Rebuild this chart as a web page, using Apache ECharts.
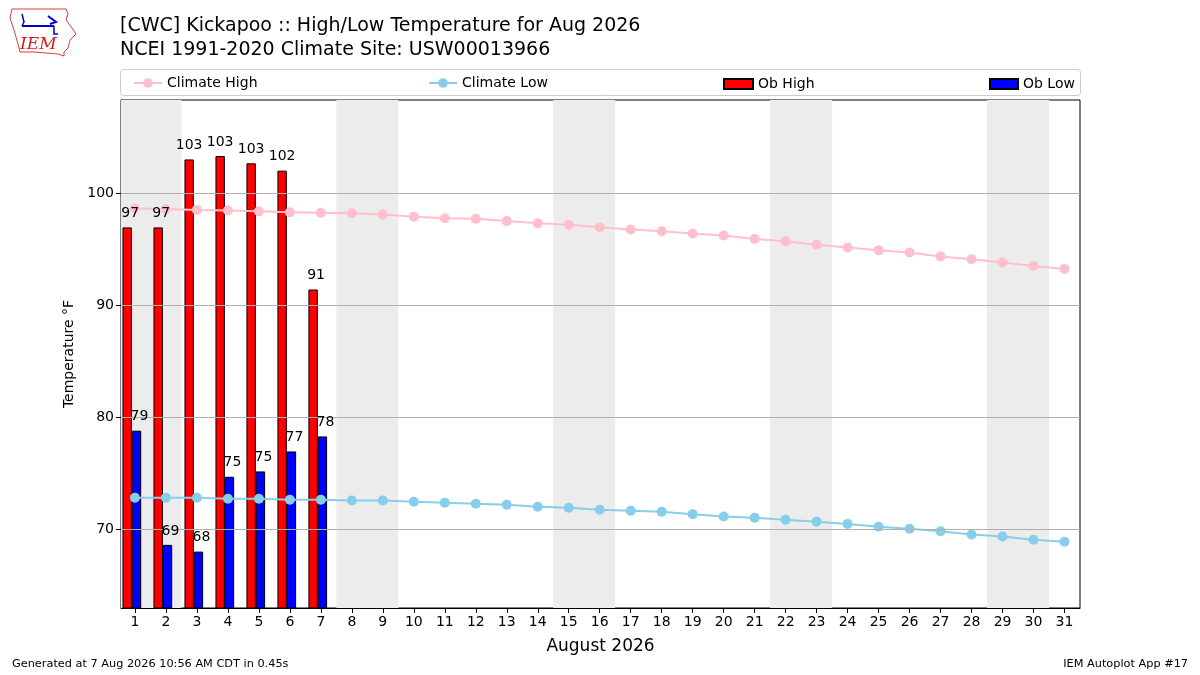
<!DOCTYPE html>
<html>
<head>
<meta charset="utf-8">
<script src="https://cdn.jsdelivr.net/npm/echarts@6/dist/echarts.min.js"></script>
<style>
html,body{margin:0;padding:0;background:#fff;}
#chart{width:1200px;height:675px;}
</style>
</head>
<body>
<div id="chart"></div>
<script>
// ---- data ----
const days = [1,2,3,4,5,6,7,8,9,10,11,12,13,14,15,16,17,18,19,20,21,22,23,24,25,26,27,28,29,30,31];
const climateHigh = [98.63,98.58,98.5,98.45,98.37,98.28,98.25,98.2,98.1,97.9,97.75,97.7,97.5,97.3,97.17,96.95,96.75,96.6,96.4,96.22,95.9,95.7,95.4,95.15,94.9,94.7,94.35,94.1,93.8,93.5,93.24];
const climateLow = [72.83,72.83,72.83,72.74,72.74,72.65,72.65,72.59,72.59,72.47,72.38,72.3,72.2,72.03,71.94,71.76,71.67,71.58,71.37,71.16,71.05,70.87,70.7,70.5,70.24,70.06,69.85,69.55,69.37,69.08,68.9];
const obDays = [1,2,3,4,5,6,7];
const obHigh = [96.94,96.94,103.0,103.3,102.65,102.0,91.4];
const obLow = [78.81,68.63,68.03,74.7,75.18,76.96,78.3];
const weekendStarts = [1,8,15,22,29];
const yTicks = [70,80,90,100];
const xTicks = days;

// ---- chart ----
const xMin = 0.55, xMax = 31.5;
const FONT = 'DejaVu Sans';
const chart = echarts.init(document.getElementById('chart'), null, {renderer:'canvas'});

const highOffset = -0.25, lowOffset = 0.05;
const highData = obDays.map((d,i)=>[d+highOffset, obHigh[i]]);
const lowData = obDays.map((d,i)=>[d+lowOffset, obLow[i]]);

function labelPoints(arr){
  return arr.map(p=>({value:p, label:{offset:[Math.round(p[1]) < 100 ? 3 : 0, 0]}}));
}

const bandData = weekendStarts.map(d=>[{xAxis: Math.max(d-0.5, xMin)},{xAxis: Math.min(d+1.5, xMax)}]);
const gridData = yTicks.map(v=>({yAxis: v}));

const labelSeries = (name, data) => ({
  name: name, type:'scatter', z:6, symbolSize:0, silent:true,
  itemStyle:{opacity:1},
  label:{show:true, position:'top', distance:7, color:'#000', fontFamily:FONT, fontSize:14,
    formatter: p => Math.round(p.value[1]).toString()},
  data: labelPoints(data)
});

const legendText = {fontFamily:FONT, fontSize:14, color:'#000'};

const option = {
  backgroundColor: '#fff',
  animation: false,
  textStyle: {fontFamily: FONT},
  title: {
    text: '[CWC] Kickapoo :: High/Low Temperature for Aug 2026\nNCEI 1991-2020 Climate Site: USW00013966',
    left: 115, top: 9,
    textStyle: {fontFamily: FONT, fontSize: 19, fontWeight: 'normal', color: '#000', lineHeight: 24}
  },
  legend: [
    {data:['Climate High'], left:128, top:71, itemWidth:28, itemHeight:12, itemGap:8, textStyle:legendText},
    {data:['Climate Low'], left:423, top:71, itemWidth:28, itemHeight:12, itemGap:8, textStyle:legendText},
    {data:[{name:'Ob High', icon:'rect'}], left:718, top:72, itemWidth:29, itemHeight:10, textStyle:legendText},
    {data:[{name:'Ob Low', icon:'rect'}], left:984, top:72, itemWidth:28, itemHeight:10, textStyle:legendText}
  ],
  grid: {left:121, right:120, top:100, bottom:67, show:true, borderColor:'#000', borderWidth:1, backgroundColor:'transparent'},
  xAxis: {
    type:'value', min:xMin, max:xMax,
    name:'August 2026', nameLocation:'middle', nameGap:30,
    nameTextStyle:{fontFamily:FONT, fontSize:17, color:'#000'},
    axisLine:{show:true, lineStyle:{color:'#000', width:1}},
    axisTick:{show:true, length:5, lineStyle:{color:'#000'}, customValues: xTicks},
    axisLabel:{color:'#000', fontFamily:FONT, fontSize:14, margin:7, customValues: xTicks},
    splitLine:{show:false}
  },
  yAxis: {
    type:'value', min:63, max:108.3,
    name:'Temperature °F', nameLocation:'middle', nameGap:44,
    nameTextStyle:{fontFamily:FONT, fontSize:14, color:'#000'},
    axisLine:{show:true, lineStyle:{color:'#000', width:1}},
    axisTick:{show:true, length:5, lineStyle:{color:'#000'}, customValues: yTicks},
    axisLabel:{color:'#000', fontFamily:FONT, fontSize:14, margin:7, customValues: yTicks},
    splitLine:{show:false}
  },
  series: [
    {
      name:'bg', type:'line', data:[], z:1, silent:true,
      markArea:{silent:true, itemStyle:{color:'#ececec'}, data: bandData},
      markLine:{silent:true, symbol:['none','none'], label:{show:false},
        lineStyle:{color:'#b0b0b0', type:'solid', width:1}, data: gridData}
    },
    {
      name:'Ob High', type:'bar', z:3, barWidth:9.4, barGap:'-100%',
      itemStyle:{color:'#ff0000', borderColor:'#000', borderWidth:1},
      data: highData
    },
    {
      name:'Ob Low', type:'bar', z:3, barWidth:9.4, barGap:'-100%',
      itemStyle:{color:'#0000ff', borderColor:'#000', borderWidth:1},
      data: lowData
    },
    {
      name:'Climate High', type:'line', z:4, symbol:'circle', symbolSize:10,
      lineStyle:{color:'#ffc0cb', width:2}, itemStyle:{color:'#ffc0cb'},
      data: days.map((d,i)=>[d, climateHigh[i]])
    },
    {
      name:'Climate Low', type:'line', z:4, symbol:'circle', symbolSize:10,
      lineStyle:{color:'#87ceeb', width:2}, itemStyle:{color:'#87ceeb'},
      data: days.map((d,i)=>[d, climateLow[i]])
    },
    labelSeries('highLabels', highData),
    labelSeries('lowLabels', lowData)
  ],
  graphic: [
    {type:'rect', left:120, top:69, shape:{width:960, height:26, r:3}, style:{fill:'#fff', stroke:'#cccccc', lineWidth:1}, z:-1, silent:true},
    // logo (decorative)
    {type:'polyline', shape:{points:[[12,9],[66,9],[68,14],[66,20],[72,28],[76,34],[70,40],[68,48],[64,52],[64,56],[58,54],[34,52],[20,52],[18,44],[14,30],[10,18],[12,9]]}, style:{stroke:'#d04040', fill:'none', lineWidth:1}, silent:true},
    {type:'polyline', shape:{points:[[22,26],[54,26]]}, style:{stroke:'#0000cc', lineWidth:2}, silent:true},
    {type:'polyline', shape:{points:[[22,14],[24,22],[22,26]]}, style:{stroke:'#0000cc', lineWidth:1.5}, silent:true},
    {type:'polyline', shape:{points:[[48,16],[56,22],[50,24]]}, style:{stroke:'#0000cc', lineWidth:2}, silent:true},
    {type:'polyline', shape:{points:[[54,26],[54,34],[58,34]]}, style:{stroke:'#0000cc', lineWidth:1.5}, silent:true},
    {type:'text', left:20, top:36, style:{text:'IEM', fill:'#d02020', font:'italic 17px "DejaVu Serif", "Liberation Serif", serif'}, silent:true},
    {type:'text', left:12, top:659, style:{text:'Generated at 7 Aug 2026 10:56 AM CDT in 0.45s', fill:'#000', font:'11.3px "DejaVu Sans"'}, silent:true},
    {type:'text', right:12, top:659, style:{text:'IEM Autoplot App #17', fill:'#000', font:'11.3px "DejaVu Sans"'}, silent:true}
  ]
};
chart.setOption(option);
</script>
</body>
</html>
